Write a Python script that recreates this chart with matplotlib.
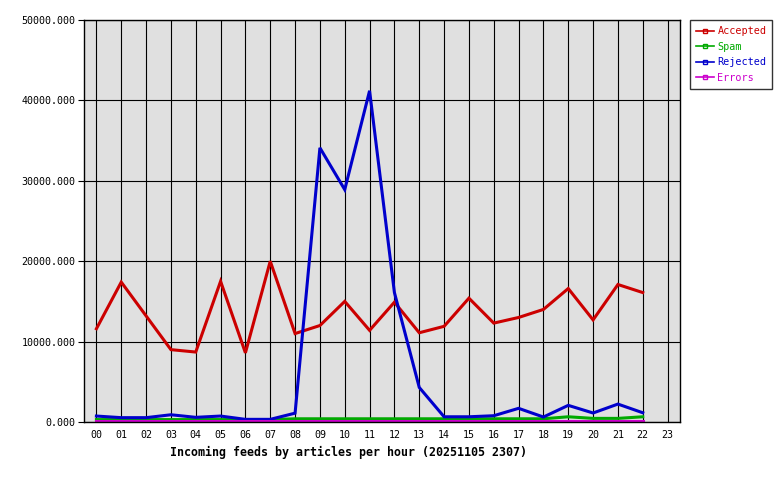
import matplotlib
matplotlib.use("Agg")
import matplotlib.pyplot as plt
from matplotlib.ticker import FuncFormatter

hours = list(range(24))
hour_labels = ["%02d" % h for h in hours]

# values, hours 00..22
accepted = [11600, 17400, 13200, 9000, 8700, 17500, 8600, 20000, 11000, 12000,
            15000, 11400, 14900, 11100, 11900, 15400, 12300, 13000, 14000, 16600,
            12700, 17100, 16100]
spam = [300, 300, 300, 300, 300, 300, 300, 300, 400, 400,
        400, 400, 400, 400, 400, 400, 400, 400, 400, 650,
        450, 450, 650]
rejected = [740, 540, 540, 900, 580, 740, 330, 330, 1100, 34100,
            28900, 41200, 16100, 4300, 650, 650, 780, 1700, 620, 2070,
            1120, 2230, 1150]
errors = [150] * 23

series = [
    ("Accepted", accepted, "#cc0000"),
    ("Spam", spam, "#00aa00"),
    ("Rejected", rejected, "#0000cc"),
    ("Errors", errors, "#cc00cc"),
]

plt.rcParams['font.family'] = ['DejaVu Sans Mono']

fig = plt.figure(figsize=(7.8, 4.8), dpi=100)
ax = fig.add_axes([84/780, 1-422/480, 596/780, 402/480])
ax.set_facecolor("#e0e0e0")

for name, vals, col in series:
    ax.plot(hours[:len(vals)], vals, color=col, lw=2.2, solid_joinstyle="miter")

ax.set_xlim(-0.5, 23.5)
ax.set_ylim(0, 50000)
ax.set_xticks(hours)
ax.set_xticklabels(hour_labels)
ax.set_yticks(range(0, 50001, 10000))
ax.yaxis.set_major_formatter(FuncFormatter(lambda v, p: "%.3f" % v))
ax.grid(True, color="black", lw=0.8)
ax.set_axisbelow(True)
ax.tick_params(axis="x", length=0, pad=6, labelsize=7.2)
ax.tick_params(axis="y", length=4, width=0.8, pad=2, labelsize=7.2)
for s in ax.spines.values():
    s.set_color("black")
    s.set_linewidth(1)

ax.set_xlabel("Incoming feeds by articles per hour (20251105 2307)",
              fontsize=8.4, fontweight="bold")
ax.xaxis.set_label_coords(0.443, -0.06)

handles = [plt.Line2D([], [], color=c, lw=1.2, marker="s", markersize=2.5,
                      markevery=[1], markerfacecolor="none")
           for _, _, c in series]
leg = fig.legend(handles, [n for n, _, _ in series],
                 loc="upper left", bbox_to_anchor=(690/780, 1-20/480),
                 fontsize=7.3, frameon=True, fancybox=False,
                 handlelength=1.8, handletextpad=0.3, borderpad=0.6,
                 labelspacing=0.55, borderaxespad=0)
leg.get_frame().set_edgecolor("black")
leg.get_frame().set_linewidth(1)
for t, (_, _, c) in zip(leg.get_texts(), series):
    t.set_color(c)

fig.savefig("out.png", dpi=100)
